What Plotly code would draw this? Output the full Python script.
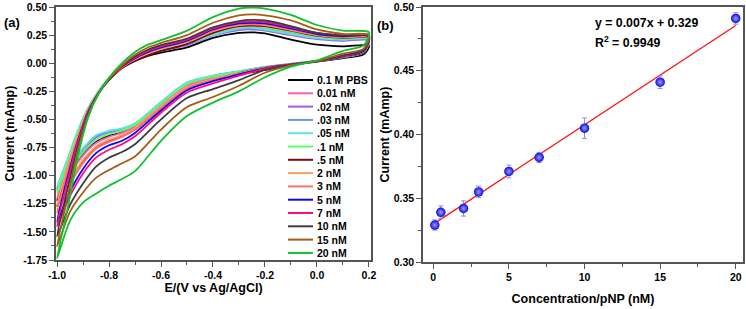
import numpy as np
import plotly.graph_objects as go

# ---------------- data: panel (a) cyclic voltammograms ----------------
NAMES = ["0.1 M PBS", "0.01 nM", ".02 nM", ".03 nM", ".05 nM", ".1 nM", ".5 nM",
         "2 nM", "3 nM", "5 nM", "7 nM", "10 nM", "15 nM", "20 nM"]
COLORS = ["#000000", "#FF5CB8", "#A35CF0", "#6A98E0", "#62E2D8", "#5CFF6A", "#7A0A14",
          "#FF9E5C", "#FF6F6F", "#0A0AF0", "#FF0A84", "#3C3C3C", "#A65C14", "#10C030"]

# forward (upper) branch potentials and reverse (lower) branch potentials
UP_E = [-1.0, -0.96, -0.92, -0.88, -0.84, -0.80, -0.75, -0.70, -0.65, -0.60,
        -0.50, -0.40, -0.30, -0.25, -0.20, -0.10, 0.0, 0.10, 0.20]
LO_E = [0.18, 0.10, 0.0, -0.10, -0.20, -0.30, -0.40, -0.50, -0.60, -0.70,
        -0.75, -0.80, -0.85, -0.90, -0.95, -1.0]

UP_I = [
    [-1.22, -0.90, -0.63, -0.41, -0.26, -0.145, -0.04, 0.02, 0.065, 0.095, 0.14, 0.225, 0.27, 0.275, 0.265, 0.21, 0.165, 0.15, 0.155],
    [-1.20, -0.90, -0.63, -0.405, -0.255, -0.14, -0.035, 0.03, 0.08, 0.115, 0.17, 0.26, 0.32, 0.325, 0.315, 0.275, 0.235, 0.215, 0.215],
    [-1.13, -0.87, -0.61, -0.40, -0.25, -0.135, -0.03, 0.03, 0.08, 0.11, 0.16, 0.245, 0.295, 0.30, 0.29, 0.25, 0.215, 0.20, 0.20],
    [-1.11, -0.86, -0.605, -0.40, -0.25, -0.135, -0.025, 0.035, 0.085, 0.115, 0.165, 0.25, 0.305, 0.31, 0.30, 0.26, 0.22, 0.205, 0.21],
    [-1.10, -0.86, -0.60, -0.40, -0.25, -0.13, -0.02, 0.04, 0.09, 0.12, 0.17, 0.25, 0.31, 0.315, 0.30, 0.26, 0.225, 0.21, 0.215],
    [-1.15, -0.88, -0.62, -0.40, -0.25, -0.135, -0.03, 0.035, 0.085, 0.12, 0.175, 0.265, 0.325, 0.33, 0.32, 0.28, 0.24, 0.22, 0.22],
    [-1.27, -0.94, -0.66, -0.42, -0.265, -0.15, -0.045, 0.02, 0.07, 0.11, 0.17, 0.27, 0.33, 0.335, 0.33, 0.29, 0.245, 0.225, 0.225],
    [-1.26, -0.93, -0.65, -0.41, -0.26, -0.14, -0.035, 0.035, 0.09, 0.13, 0.19, 0.285, 0.34, 0.345, 0.34, 0.295, 0.25, 0.23, 0.23],
    [-1.33, -0.97, -0.67, -0.42, -0.26, -0.14, -0.035, 0.04, 0.095, 0.135, 0.195, 0.29, 0.345, 0.35, 0.345, 0.30, 0.255, 0.235, 0.235],
    [-1.41, -1.02, -0.69, -0.43, -0.265, -0.14, -0.03, 0.045, 0.10, 0.14, 0.20, 0.30, 0.355, 0.36, 0.355, 0.31, 0.26, 0.24, 0.24],
    [-1.45, -1.05, -0.70, -0.44, -0.27, -0.14, -0.03, 0.05, 0.11, 0.15, 0.21, 0.31, 0.365, 0.37, 0.365, 0.32, 0.27, 0.25, 0.25],
    [-1.54, -1.12, -0.74, -0.45, -0.27, -0.14, -0.025, 0.06, 0.12, 0.16, 0.22, 0.32, 0.375, 0.385, 0.38, 0.33, 0.27, 0.245, 0.24],
    [-1.63, -1.20, -0.78, -0.46, -0.27, -0.14, -0.02, 0.075, 0.14, 0.18, 0.25, 0.36, 0.425, 0.435, 0.425, 0.38, 0.30, 0.26, 0.25],
    [-1.735, -1.30, -0.83, -0.48, -0.27, -0.13, 0.0, 0.10, 0.165, 0.205, 0.29, 0.41, 0.485, 0.495, 0.485, 0.43, 0.34, 0.29, 0.275],
]
LO_I = [
    [0.08, 0.045, 0.015, -0.015, -0.06, -0.095, -0.135, -0.195, -0.37, -0.56, -0.615, -0.645, -0.70, -0.81, -0.98, -1.22],
    [0.10, 0.055, 0.018, -0.008, -0.037, -0.085, -0.13, -0.195, -0.37, -0.56, -0.62, -0.655, -0.71, -0.82, -0.99, -1.20],
    [0.095, 0.052, 0.02, -0.006, -0.034, -0.075, -0.115, -0.18, -0.355, -0.545, -0.595, -0.615, -0.66, -0.775, -0.93, -1.13],
    [0.10, 0.055, 0.02, -0.006, -0.033, -0.072, -0.112, -0.175, -0.35, -0.54, -0.59, -0.61, -0.65, -0.765, -0.92, -1.11],
    [0.10, 0.055, 0.02, -0.006, -0.033, -0.07, -0.11, -0.17, -0.345, -0.535, -0.58, -0.60, -0.64, -0.755, -0.91, -1.10],
    [0.10, 0.055, 0.018, -0.008, -0.036, -0.08, -0.12, -0.185, -0.36, -0.55, -0.60, -0.63, -0.68, -0.79, -0.95, -1.15],
    [0.10, 0.055, 0.017, -0.01, -0.04, -0.09, -0.145, -0.22, -0.40, -0.59, -0.65, -0.69, -0.75, -0.87, -1.04, -1.27],
    [0.105, 0.058, 0.018, -0.01, -0.042, -0.09, -0.14, -0.21, -0.385, -0.575, -0.64, -0.68, -0.74, -0.86, -1.04, -1.26],
    [0.11, 0.06, 0.018, -0.01, -0.045, -0.095, -0.15, -0.225, -0.40, -0.59, -0.655, -0.70, -0.76, -0.89, -1.08, -1.33],
    [0.11, 0.06, 0.018, -0.01, -0.045, -0.10, -0.16, -0.24, -0.42, -0.62, -0.69, -0.73, -0.80, -0.94, -1.14, -1.41],
    [0.12, 0.065, 0.02, -0.012, -0.05, -0.11, -0.18, -0.26, -0.44, -0.65, -0.72, -0.77, -0.84, -0.98, -1.18, -1.45],
    [0.12, 0.07, 0.018, -0.015, -0.06, -0.15, -0.23, -0.31, -0.50, -0.72, -0.79, -0.84, -0.92, -1.07, -1.26, -1.54],
    [0.13, 0.085, 0.02, -0.02, -0.085, -0.20, -0.30, -0.39, -0.59, -0.83, -0.89, -0.95, -1.02, -1.15, -1.32, -1.63],
    [0.16, 0.11, 0.025, -0.03, -0.125, -0.25, -0.35, -0.47, -0.69, -0.96, -1.03, -1.09, -1.16, -1.24, -1.40, -1.735],
]

# ---------------- data: panel (b) calibration ----------------
CONC = [0.1, 0.5, 2, 3, 5, 7, 10, 15, 20]
CURRENT = [0.329, 0.339, 0.342, 0.355, 0.371, 0.382, 0.405, 0.441, 0.491]
CURRENT_ERR = [0.004, 0.005, 0.006, 0.0045, 0.005, 0.004, 0.008, 0.005, 0.0045]

# tick labels
AX_TICKS = [-1.0, -0.8, -0.6, -0.4, -0.2, 0.0, 0.2]
AX_LABELS = ["-1.0", "-0.8", "-0.6", "-0.4", "-0.2", "0.0", "0.2"]
AY_TICKS = [0.5, 0.25, 0.0, -0.25, -0.5, -0.75, -1.0, -1.25, -1.5, -1.75]
AY_LABELS = ["0.50", "0.25", "0.00", "-0.25", "-0.50", "-0.75", "-1.00", "-1.25", "-1.50", "-1.75"]
BX_TICKS = [0, 5, 10, 15, 20]
BX_LABELS = ["0", "5", "10", "15", "20"]
BY_TICKS = [0.30, 0.35, 0.40, 0.45, 0.50]
BY_LABELS = ["0.30", "0.35", "0.40", "0.45", "0.50"]

# ---------------- figure ----------------
W, H = 746, 309
ML, MR, MT, MB = 0, 0, 7, 47
PW, PH = W - ML - MR, H - MT - MB


def px(x):
    return (x - ML) / PW


def py(y):
    return (H - MB - y) / PH


FONT = "Liberation Sans, Arial, sans-serif"
AXCOL = "#555555"

fig = go.Figure()

for name, col, up, lo in zip(NAMES, COLORS, UP_I, LO_I):
    fig.add_trace(go.Scatter(
        x=UP_E + LO_E, y=up + lo, mode="lines", name=name,
        line=dict(color=col, width=1.8, shape="spline", smoothing=0.8),
        xaxis="x", yaxis="y", showlegend=False, hoverinfo="skip"))

# calibration points
fit = np.polyfit(CONC, CURRENT, 1)
xf = np.array([min(CONC), max(CONC)])
fig.add_trace(go.Scatter(x=xf, y=np.polyval(fit, xf), mode="lines",
                         line=dict(color="#FF1010", width=1.3),
                         xaxis="x2", yaxis="y2", showlegend=False))
fig.add_trace(go.Scatter(
    x=CONC, y=CURRENT, mode="markers",
    error_y=dict(type="data", array=CURRENT_ERR, color="#8C8CF0", thickness=1, width=2.5),
    marker=dict(size=9.5, color="#0A0AE6", line=dict(width=0),
                gradient=dict(type="radial", color="#A0A0FF")),
    xaxis="x2", yaxis="y2", showlegend=False))

common = dict(showline=True, linecolor=AXCOL, linewidth=1.5, mirror=True,
              ticks="outside", ticklen=5, tickwidth=1.2, tickcolor=AXCOL,
              showgrid=False, zeroline=False, automargin=False,
              tickfont=dict(family=FONT, size=10.5, color="#000", weight="bold"),
              title_font=dict(family=FONT, size=12.5, color="#000", weight="bold"),
              tickmode="array")
minor = dict(ticklen=3, tickwidth=1, tickcolor=AXCOL, ticks="outside", showgrid=False)

fig.update_layout(
    width=W, height=H, margin=dict(l=ML, r=MR, t=MT, b=MB),
    paper_bgcolor="white", plot_bgcolor="white", showlegend=False,
    xaxis=dict(domain=[px(56), px(371)], range=[-1.004, 0.208], anchor="y",
               tickvals=AX_TICKS, ticktext=AX_LABELS,
               minor=dict(tickvals=list(np.arange(-0.9, 0.2, 0.2)), **minor),
               title=dict(text="E/(V vs Ag/AgCl)", standoff=2), **common),
    yaxis=dict(domain=[py(260), 1.0], range=[-1.75, 0.5], anchor="x",
               tickvals=AY_TICKS, ticktext=AY_LABELS,
               minor=dict(tickvals=list(np.arange(-1.625, 0.5, 0.25)), **minor),
               title=dict(text="Current (mAmp)", standoff=6), **common),
    xaxis2=dict(domain=[px(423), px(743)], range=[-0.68, 20.48], anchor="y2",
                tickvals=BX_TICKS, ticktext=BX_LABELS,
                minor=dict(tickvals=[2.5, 7.5, 12.5, 17.5], **minor),
                title=dict(text="Concentration/pNP (nM)", standoff=12), **common),
    yaxis2=dict(domain=[0.0, 1.0], range=[0.30, 0.50], anchor="x2",
                tickvals=BY_TICKS, ticktext=BY_LABELS,
                minor=dict(tickvals=[0.325, 0.375, 0.425, 0.475], **minor),
                title=dict(text="Current (mAmp)", standoff=1), **common),
)

# manual compact legend for panel (a)
for i, (name, col) in enumerate(zip(NAMES, COLORS)):
    yy = 80 + i * 13.3
    fig.add_shape(type="line", xref="paper", yref="paper",
                  x0=px(288), x1=px(313), y0=py(yy), y1=py(yy),
                  line=dict(color=col, width=2))
    fig.add_annotation(text=name, xref="paper", yref="paper", x=px(315), y=py(yy),
                       xanchor="left", yanchor="middle", showarrow=False,
                       font=dict(family=FONT, size=10.5, color="#000", weight="bold"))

# panel labels and equation
fig.add_annotation(text="(a)", xref="paper", yref="paper", x=px(12), y=py(22),
                   xanchor="center", yanchor="middle", showarrow=False,
                   font=dict(family=FONT, size=13, color="#000", weight="bold"))
fig.add_annotation(text="(b)", xref="paper", yref="paper", x=px(385), y=py(26),
                   xanchor="center", yanchor="middle", showarrow=False,
                   font=dict(family=FONT, size=13, color="#000", weight="bold"))
fig.add_annotation(text="y = 0.007x + 0.329", xref="paper", yref="paper", x=px(593), y=py(23),
                   xanchor="left", yanchor="middle", showarrow=False,
                   font=dict(family=FONT, size=12.3, color="#000", weight="bold"))
fig.add_annotation(text="R<sup>2</sup> = 0.9949", xref="paper", yref="paper", x=px(593), y=py(42),
                   xanchor="left", yanchor="middle", showarrow=False,
                   font=dict(family=FONT, size=12.3, color="#000", weight="bold"))

# remove the browser's default 8px body margin so the figure fills the window
fig.write_html("out.html", config={"displayModeBar": False},
               post_script="document.body.style.margin='0px';document.body.style.overflow='hidden';")
